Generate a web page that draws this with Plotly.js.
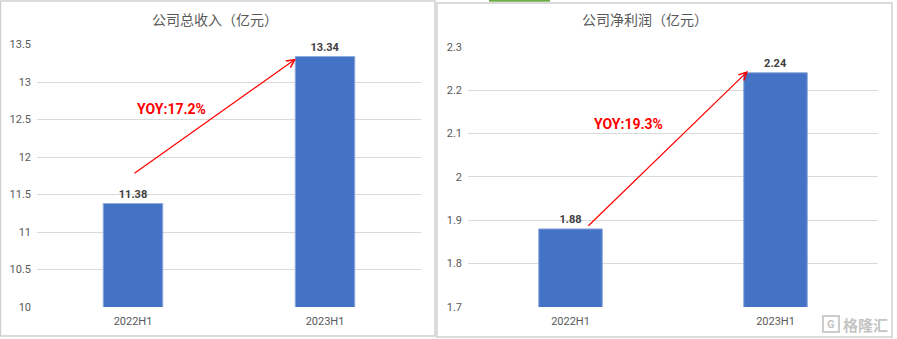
<!DOCTYPE html>
<html>
<head>
<meta charset="utf-8">
<script src="https://cdn.plot.ly/plotly-3.0.1.min.js"></script>
<style>html,body{margin:0;padding:0;background:#fff;}#chart{width:897px;height:339px;}</style>
</head>
<body>
<div id="chart"></div>
<script>
// ---- data ----
const categories = ['2022H1', '2023H1'];
const revenue = [11.38, 13.34];
const netProfit = [1.88, 2.24];
const revenueTitle = '公司总收入（亿元）';
const profitTitle = '公司净利润（亿元）';
const revenueYoY = 'YOY:17.2%';
const profitYoY = 'YOY:19.3%';
const revenueTicks = [10, 10.5, 11, 11.5, 12, 12.5, 13, 13.5];
const profitTicks = [1.7, 1.8, 1.9, 2.0, 2.1, 2.2, 2.3];

const W = 897, H = 339;
const px = x => x / W;
const py = y => 1 - y / H;

const barColor = '#4472C4';
const gray = '#595959';
const tickFont = {family: 'Roboto, "Liberation Sans", sans-serif', size: 11, color: gray};
const labelFont = {family: 'Roboto, "Liberation Sans", sans-serif', size: 11, color: '#404040', weight: 'bold'};

const traces = [
  {type: 'bar', x: categories, y: revenue, xaxis: 'x', yaxis: 'y',
   marker: {color: barColor, line: {color: '#8faadc', width: 1}},
   text: revenue.map(v => v.toFixed(2)), textposition: 'outside', cliponaxis: false,
   textfont: labelFont, hoverinfo: 'skip'},
  {type: 'bar', x: categories, y: netProfit, xaxis: 'x2', yaxis: 'y2',
   marker: {color: barColor, line: {color: '#8faadc', width: 1}},
   text: netProfit.map(v => v.toFixed(2)), textposition: 'outside', cliponaxis: false,
   textfont: labelFont, hoverinfo: 'skip'}
];

const yCommon = {gridcolor: '#d9d9d9', gridwidth: 1, zeroline: false, showline: false,
  ticks: '', tickfont: tickFont, tickmode: 'array', fixedrange: true, ticklabelstandoff: 5};
const xCommon = {showgrid: false, zeroline: false, showline: false, ticks: '',
  tickfont: tickFont, type: 'category', fixedrange: true, ticklabelstandoff: 6};

const pa = (x, y, text, font) => ({xref: 'paper', yref: 'paper', x: px(x), y: py(y),
  xanchor: 'center', yanchor: 'middle', text: text, showarrow: false, font: font});

const layout = {
  width: W, height: H,
  margin: {l: 0, r: 0, t: 0, b: 0},
  paper_bgcolor: '#ffffff', plot_bgcolor: '#ffffff',
  showlegend: false, bargap: 0.69,
  font: {family: 'Roboto, "Noto Sans CJK SC", sans-serif'},
  xaxis: Object.assign({}, xCommon, {domain: [px(37), px(421)], anchor: 'y'}),
  yaxis: Object.assign({}, yCommon, {domain: [py(307), py(44.5)], range: [10, 13.5],
    tickvals: revenueTicks, ticktext: revenueTicks.map(String), anchor: 'x'}),
  xaxis2: Object.assign({}, xCommon, {domain: [px(468), px(878)], anchor: 'y2'}),
  yaxis2: Object.assign({}, yCommon, {domain: [py(307), py(46.7)], range: [1.7, 2.3],
    tickvals: profitTicks, ticktext: profitTicks.map(v => String(+v.toFixed(1))), anchor: 'x2'}),
  shapes: [
    // panel borders
    {type: 'rect', xref: 'paper', yref: 'paper', x0: px(0.5), x1: px(435), y0: py(336), y1: py(1),
     line: {color: '#d0d0d0', width: 1.5}},
    {type: 'rect', xref: 'paper', yref: 'paper', x0: px(437), x1: px(892), y0: py(337), y1: py(3),
     line: {color: '#d0d0d0', width: 1.5}},
    // green selection mark at top
    {type: 'line', xref: 'paper', yref: 'paper', x0: px(489), x1: px(550), y0: py(0.8), y1: py(0.8),
     line: {color: '#70ad47', width: 2}},
    // watermark logo box
    {type: 'rect', xref: 'paper', yref: 'paper', x0: px(823), x1: px(839), y0: py(332), y1: py(316),
     line: {color: 'rgba(195,195,195,0.85)', width: 2}}
  ],
  annotations: [
    pa(215, 19, revenueTitle, {family: '"Noto Sans CJK SC", sans-serif', size: 14, color: gray}),
    pa(645, 19, profitTitle, {family: '"Noto Sans CJK SC", sans-serif', size: 14, color: gray}),
    // arrows
    {xref: 'x', yref: 'y', axref: 'x', ayref: 'y', x: 0.849, y: 13.31, ax: 0, ay: 11.77,
     showarrow: true, arrowhead: 5, arrowsize: 1.3, arrowwidth: 1.2, arrowcolor: '#ff0000', text: ''},
    {xref: 'x2', yref: 'y2', axref: 'x2', ayref: 'y2', x: 0.866, y: 2.244, ax: 0.08, ay: 1.884,
     showarrow: true, arrowhead: 5, arrowsize: 1.3, arrowwidth: 1.2, arrowcolor: '#ff0000', text: ''},
    {xref: 'x', yref: 'y', x: 0.2, y: 12.64, xanchor: 'center', yanchor: 'middle', text: revenueYoY, showarrow: false,
     font: {family: 'Roboto, sans-serif', size: 14, color: '#ff0000', weight: 'bold'}},
    {xref: 'x2', yref: 'y2', x: 0.285, y: 2.122, xanchor: 'center', yanchor: 'middle', text: profitYoY, showarrow: false,
     font: {family: 'Roboto, sans-serif', size: 14, color: '#ff0000', weight: 'bold'}},
    // watermark
    pa(831, 324, 'G', {family: 'Roboto, sans-serif', size: 11, color: 'rgba(185,185,185,0.85)', weight: 'bold'}),
    pa(865, 324, '格隆汇', {family: '"Noto Sans CJK SC", sans-serif', size: 15, color: 'rgba(185,185,185,0.85)', weight: 'bold'})
  ]
};

Plotly.newPlot('chart', traces, layout, {staticPlot: true, displayModeBar: false});
</script>
</body>
</html>
